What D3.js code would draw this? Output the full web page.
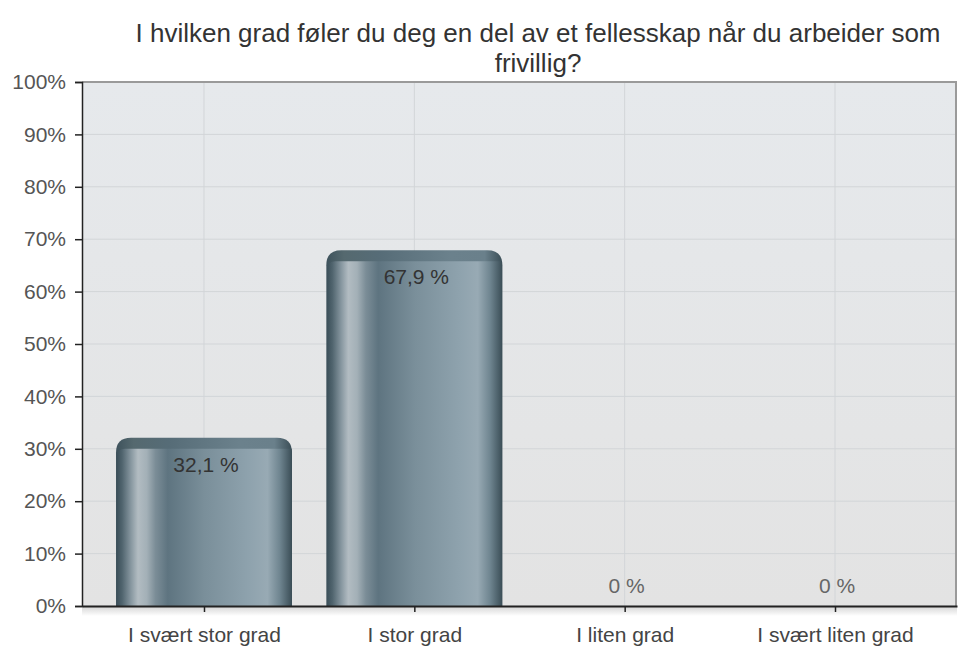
<!DOCTYPE html>
<html><head><meta charset="utf-8">
<script src="https://cdn.jsdelivr.net/npm/d3@7/dist/d3.min.js"></script>
<style>body{margin:0;background:#fff}svg{display:block}text{font-family:"Liberation Sans",Arial,sans-serif}</style>
</head><body>
<script>
const titleLines = ["I hvilken grad føler du deg en del av et fellesskap når du arbeider som", "frivillig?"];
const categories = ["I svært stor grad", "I stor grad", "I liten grad", "I svært liten grad"];
const values = [32.1, 67.9, 0, 0];
const valueLabels = ["32,1 %", "67,9 %", "0 %", "0 %"];
const yTicks = [0,10,20,30,40,50,60,70,80,90,100];

const W = 960, H = 646;
const m = {left: 82, right: 3, top: 82, bottom: 40};
const svg = d3.select("body").append("svg").attr("width", W).attr("height", H);
const defs = svg.append("defs");

const x = d3.scalePoint().domain(categories).range([m.left, W - m.right]).padding(0.58);
const y = d3.scaleLinear().domain([0, 100]).range([H - m.bottom, m.top]);
const x0 = m.left, x1 = W - m.right, y0 = y(0), y1 = y(100);

// backgrounds
const bg = defs.append("linearGradient").attr("id","bg").attr("x1",0).attr("y1",0).attr("x2",0).attr("y2",1);
bg.append("stop").attr("offset",0).attr("stop-color","#e6e9ec");
bg.append("stop").attr("offset",1).attr("stop-color","#e3e3e3");
svg.append("rect").attr("x",x0).attr("y",y1).attr("width",x1-x0).attr("height",y0-y1).attr("fill","url(#bg)");

const sh = defs.append("linearGradient").attr("id","sh").attr("x1",0).attr("y1",0).attr("x2",0).attr("y2",1);
sh.append("stop").attr("offset",0).attr("stop-color","#d8d8d8");
sh.append("stop").attr("offset",1).attr("stop-color","#ffffff");
svg.append("rect").attr("x",x0).attr("y",y0+1).attr("width",x1-x0).attr("height",9).attr("fill","url(#sh)");

// grid
svg.append("g").selectAll("line").data(yTicks).join("line")
  .attr("x1",x0).attr("x2",x1).attr("y1",d=>y(d)).attr("y2",d=>y(d))
  .attr("stroke","#d2d5d8").attr("stroke-width",1);
svg.append("g").selectAll("line").data(categories).join("line")
  .attr("x1",d=>x(d)).attr("x2",d=>x(d)).attr("y1",y1).attr("y2",y0)
  .attr("stroke","#d2d5d8").attr("stroke-width",1);

// borders
svg.append("line").attr("x1",x0).attr("x2",x1).attr("y1",y1).attr("y2",y1).attr("stroke","#9a9a9a").attr("stroke-width",2);
svg.append("line").attr("x1",x1-1).attr("x2",x1-1).attr("y1",y1).attr("y2",y0).attr("stroke","#9a9a9a").attr("stroke-width",2);

// gradients for bars
const main = defs.append("linearGradient").attr("id","barMain").attr("x1",0).attr("x2",1).attr("y1",0).attr("y2",0);
[[0,"#3c505a"],[0.03,"#51656f"],[0.08,"#8797a0"],[0.12,"#b2bcc2"],[0.17,"#a3b0b7"],[0.22,"#7b8d97"],[0.29,"#5e7480"],[0.5,"#7a8f9a"],[0.75,"#8ea2ad"],[0.86,"#98aab4"],[0.93,"#6f8590"],[1,"#3a4d56"]]
  .forEach(([o,c])=>main.append("stop").attr("offset",o).attr("stop-color",c));
const cap = defs.append("linearGradient").attr("id","barCap").attr("x1",0).attr("x2",1).attr("y1",0).attr("y2",0);
[[0,"#3e525c"],[0.1,"#55696f"],[0.3,"#566c77"],[0.7,"#6b818c"],[0.9,"#6a808b"],[1,"#3a4d56"]]
  .forEach(([o,c])=>cap.append("stop").attr("offset",o).attr("stop-color",c));

const bw = 176, r = 15, capH = 11, ir = 8;
function outerPath(cx, top, bot){
  const a = cx - bw/2, b = cx + bw/2;
  const rr = Math.min(r, (bot-top));
  return `M${a},${bot}V${top+rr}Q${a},${top} ${a+rr},${top}H${b-rr}Q${b},${top} ${b},${top+rr}V${bot}Z`;
}
function innerPath(cx, top, bot){
  const a = cx - bw/2 + 1, b = cx + bw/2;
  const t = top + capH;
  return `M${a},${bot}V${t+ir}Q${a},${t} ${a+ir},${t}H${b}V${bot}Z`;
}
const bars = svg.append("g");
categories.forEach((c,i)=>{
  const v = values[i];
  if (v <= 0) return;
  const cx = x(c), top = y(v), bot = y0;
  const id = "clip"+i;
  defs.append("clipPath").attr("id",id).append("path").attr("d",outerPath(cx,top,bot));
  bars.append("path").attr("d",outerPath(cx,top,bot)).attr("fill","url(#barCap)");
  bars.append("path").attr("d",innerPath(cx,top,bot)).attr("fill","url(#barMain)").attr("clip-path",`url(#${id})`);
});

// value labels
svg.append("g").selectAll("text").data(categories).join("text")
  .attr("x",d=>x(d)+2)
  .attr("y",(d,i)=>Math.min(y(values[i])+34, y0-13))
  .attr("text-anchor","middle").attr("font-size",21)
  .attr("fill",(d,i)=>values[i]>0?"#333":"#666")
  .text((d,i)=>valueLabels[i]);

// axes
const yAxis = svg.append("g").attr("transform",`translate(${x0},0)`)
  .call(d3.axisLeft(y).tickValues(yTicks).tickFormat(d=>d+"%").tickSize(7).tickPadding(9));
yAxis.select(".domain").attr("stroke","#222").attr("stroke-width",1.5);
yAxis.selectAll(".tick line").attr("stroke","#222").attr("stroke-width",1.5);
yAxis.selectAll("text").attr("font-size",21).attr("fill","#555").attr("font-family","Liberation Sans, Arial, sans-serif");

const xAxis = svg.append("g").attr("transform",`translate(0,${y0})`)
  .call(d3.axisBottom(x).tickSize(6).tickPadding(15).tickSizeOuter(0));
xAxis.select(".domain").attr("stroke","#222").attr("stroke-width",2);
xAxis.selectAll(".tick line").attr("stroke","#222").attr("stroke-width",1.5);
xAxis.selectAll("text").attr("font-size",21).attr("fill","#444").attr("font-family","Liberation Sans, Arial, sans-serif");

// title
svg.append("g").selectAll("text").data(titleLines).join("text")
  .attr("x",538).attr("y",(d,i)=>42+i*30)
  .attr("text-anchor","middle").attr("font-size",26).attr("fill","#333")
  .text(d=>d);
</script>
</body></html>
